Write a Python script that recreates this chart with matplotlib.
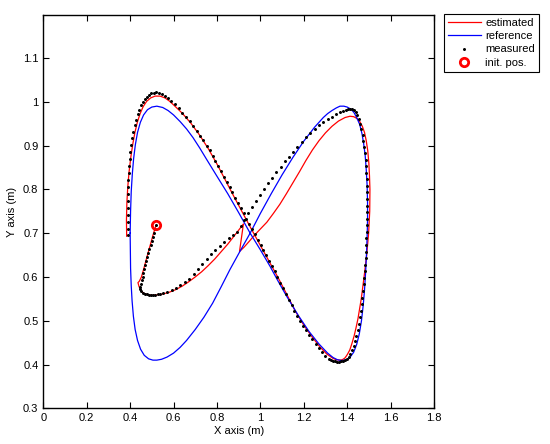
import numpy as np
import matplotlib.pyplot as plt

plt.rcParams['font.family'] = ['Liberation Sans', 'DejaVu Sans']

# reference trajectory (blue)
ref_x = [0.400, 0.401, 0.402, 0.405, 0.409, 0.415, 0.423, 0.434, 0.448, 0.465, 0.485, 0.505,
         0.523, 0.545, 0.570, 0.600, 0.630, 0.660, 0.700, 0.740, 0.780, 0.820, 0.860, 0.910,
         0.953, 1.000, 1.050, 1.100, 1.150, 1.200, 1.250, 1.290, 1.310, 1.330, 1.350, 1.367,
         1.385, 1.400, 1.418, 1.432, 1.445, 1.458, 1.468, 1.476, 1.483, 1.488, 1.492, 1.494,
         1.494, 1.492, 1.489, 1.485, 1.480, 1.474, 1.466, 1.456, 1.444, 1.430, 1.414, 1.395,
         1.375, 1.355, 1.335, 1.310, 1.270, 1.225, 1.175, 1.120, 1.080, 1.045, 1.000, 0.953,
         0.900, 0.850, 0.800, 0.753, 0.720, 0.690, 0.660, 0.630, 0.600, 0.575, 0.550, 0.523,
         0.500, 0.480, 0.462, 0.447, 0.434, 0.424, 0.416, 0.410, 0.405, 0.402, 0.400]
ref_y = [0.700, 0.660, 0.620, 0.580, 0.545, 0.510, 0.480, 0.455, 0.435, 0.421, 0.413, 0.410,
         0.410, 0.412, 0.417, 0.426, 0.439, 0.455, 0.480, 0.508, 0.540, 0.578, 0.617, 0.662,
         0.700, 0.745, 0.790, 0.833, 0.873, 0.910, 0.942, 0.964, 0.973, 0.980, 0.986, 0.990,
         0.990, 0.988, 0.983, 0.975, 0.963, 0.948, 0.928, 0.905, 0.878, 0.845, 0.810, 0.770,
         0.730, 0.690, 0.650, 0.610, 0.570, 0.535, 0.500, 0.470, 0.446, 0.428, 0.417, 0.411,
         0.409, 0.411, 0.416, 0.426, 0.447, 0.475, 0.512, 0.557, 0.592, 0.624, 0.662, 0.700,
         0.747, 0.790, 0.830, 0.868, 0.895, 0.918, 0.938, 0.955, 0.970, 0.980, 0.987, 0.990,
         0.988, 0.982, 0.970, 0.953, 0.930, 0.902, 0.870, 0.835, 0.795, 0.750, 0.700]

# estimated trajectory (red)
est_x = [0.519, 0.505, 0.490, 0.476, 0.463, 0.452, 0.442, 0.436, 0.441, 0.450, 0.462, 0.478,
         0.500, 0.523, 0.550, 0.580, 0.610, 0.640, 0.670, 0.700, 0.730, 0.760, 0.790, 0.820,
         0.850, 0.880, 0.905, 0.922, 0.904, 0.925, 0.950, 0.976, 1.003, 1.030, 1.060, 1.090,
         1.120, 1.150, 1.180, 1.210, 1.240, 1.270, 1.300, 1.330, 1.360, 1.390, 1.413, 1.430,
         1.445, 1.458, 1.470, 1.480, 1.488, 1.495, 1.500, 1.503, 1.505, 1.504, 1.499, 1.490,
         1.478, 1.465, 1.450, 1.441, 1.432, 1.422, 1.412, 1.401, 1.390, 1.378, 1.367, 1.350,
         1.335, 1.306, 1.275, 1.240, 1.200, 1.160, 1.120, 1.080, 1.040, 1.000, 0.960, 0.920,
         0.880, 0.840, 0.800, 0.760, 0.720, 0.680, 0.640, 0.600, 0.580, 0.560, 0.538, 0.515,
         0.495, 0.476, 0.460, 0.446, 0.433, 0.422, 0.412, 0.403, 0.395, 0.389, 0.385, 0.383,
         0.384]
est_y = [0.718, 0.695, 0.668, 0.643, 0.619, 0.600, 0.590, 0.587, 0.578, 0.569, 0.563, 0.560,
         0.558, 0.559, 0.561, 0.565, 0.571, 0.579, 0.589, 0.600, 0.612, 0.626, 0.641, 0.658,
         0.675, 0.694, 0.710, 0.721, 0.658, 0.668, 0.682, 0.697, 0.711, 0.725, 0.745, 0.766,
         0.790, 0.815, 0.840, 0.866, 0.890, 0.911, 0.929, 0.944, 0.956, 0.964, 0.967, 0.966,
         0.962, 0.955, 0.944, 0.930, 0.911, 0.888, 0.860, 0.830, 0.800, 0.750, 0.700, 0.650,
         0.600, 0.550, 0.505, 0.484, 0.465, 0.448, 0.433, 0.423, 0.415, 0.411, 0.410, 0.411,
         0.414, 0.424, 0.440, 0.462, 0.490, 0.523, 0.562, 0.600, 0.636, 0.672, 0.708, 0.745,
         0.782, 0.820, 0.858, 0.893, 0.924, 0.951, 0.974, 0.993, 1.002, 1.009, 1.013, 1.013,
         1.009, 1.001, 0.989, 0.973, 0.953, 0.930, 0.903, 0.873, 0.840, 0.805, 0.770, 0.730,
         0.693]

# measured positions (black dots), in pieces along the path
meas_start_x = [0.519, 0.514, 0.509, 0.504, 0.499, 0.494, 0.489, 0.484, 0.479, 0.474, 0.469,
                0.465, 0.461, 0.457, 0.453, 0.449, 0.446, 0.447, 0.452, 0.459, 0.467, 0.476,
                0.486, 0.496, 0.506, 0.516, 0.527, 0.539, 0.553]
meas_start_y = [0.718, 0.709, 0.700, 0.691, 0.682, 0.673, 0.664, 0.655, 0.646, 0.637, 0.628,
                0.619, 0.610, 0.601, 0.593, 0.585, 0.578, 0.572, 0.567, 0.564, 0.562, 0.560,
                0.559, 0.558, 0.558, 0.559, 0.560, 0.561, 0.563]
meas_rise_x = [0.572, 0.592, 0.612, 0.632, 0.652, 0.672, 0.692, 0.712, 0.732, 0.752, 0.772,
               0.793, 0.814, 0.834, 0.854, 0.874, 0.893, 0.910, 0.926, 0.945, 0.963, 0.981,
               0.999, 1.017, 1.036, 1.055, 1.074, 1.093, 1.112, 1.131, 1.150, 1.170, 1.190,
               1.210, 1.230, 1.250, 1.270, 1.290, 1.310, 1.330, 1.348, 1.365, 1.380, 1.393,
               1.405, 1.415, 1.424]
meas_rise_y = [0.566, 0.570, 0.575, 0.581, 0.588, 0.596, 0.606, 0.617, 0.629, 0.641, 0.652,
               0.662, 0.671, 0.680, 0.688, 0.695, 0.703, 0.716, 0.729, 0.745, 0.760, 0.774,
               0.788, 0.801, 0.814, 0.827, 0.840, 0.852, 0.864, 0.875, 0.886, 0.897, 0.908,
               0.919, 0.929, 0.938, 0.946, 0.953, 0.960, 0.966, 0.971, 0.976, 0.979, 0.981,
               0.983, 0.984, 0.984]
meas_right_x = [1.432, 1.440, 1.447, 1.454, 1.460, 1.466, 1.471, 1.475, 1.479, 1.482, 1.485,
                1.487, 1.489, 1.490, 1.491, 1.492, 1.492, 1.492, 1.492, 1.492, 1.491, 1.490,
                1.489, 1.488, 1.486, 1.485, 1.483, 1.481, 1.479, 1.476, 1.473, 1.470, 1.467,
                1.463, 1.459, 1.454, 1.449, 1.443, 1.437, 1.430, 1.423, 1.415, 1.407, 1.398,
                1.389, 1.380, 1.371, 1.362, 1.353, 1.344, 1.335, 1.326, 1.317]
meas_right_y = [0.982, 0.977, 0.970, 0.961, 0.950, 0.938, 0.925, 0.911, 0.897, 0.883, 0.868,
                0.853, 0.838, 0.823, 0.808, 0.793, 0.778, 0.763, 0.748, 0.733, 0.718, 0.703,
                0.688, 0.673, 0.658, 0.643, 0.628, 0.613, 0.598, 0.583, 0.568, 0.553, 0.538,
                0.523, 0.508, 0.493, 0.479, 0.466, 0.454, 0.443, 0.433, 0.425, 0.418, 0.413,
                0.410, 0.408, 0.407, 0.406, 0.406, 0.407, 0.408, 0.410, 0.413]
meas_back_x = [1.300, 1.285, 1.270, 1.255, 1.240, 1.226, 1.212, 1.198, 1.184, 1.170, 1.157,
               1.144, 1.131, 1.118, 1.105, 1.092, 1.079, 1.066, 1.053, 1.040, 1.027, 1.014,
               1.001, 0.988, 0.975, 0.962, 0.949, 0.936, 0.923, 0.910, 0.897, 0.884, 0.871,
               0.858, 0.845, 0.832, 0.819, 0.806, 0.793, 0.780, 0.766, 0.752, 0.737, 0.722,
               0.706, 0.690, 0.674, 0.658, 0.641, 0.624, 0.607, 0.590, 0.574, 0.559, 0.545,
               0.532, 0.520, 0.509, 0.498, 0.488, 0.478, 0.469, 0.460, 0.451, 0.443, 0.435,
               0.428, 0.421, 0.415, 0.410, 0.405, 0.401, 0.398, 0.395, 0.393, 0.392, 0.391,
               0.390, 0.390, 0.390, 0.390, 0.391, 0.391, 0.392]
meas_back_y = [0.420, 0.428, 0.437, 0.447, 0.458, 0.468, 0.479, 0.489, 0.499, 0.510, 0.522,
               0.535, 0.548, 0.561, 0.574, 0.587, 0.600, 0.613, 0.625, 0.637, 0.649, 0.661,
               0.673, 0.685, 0.697, 0.709, 0.721, 0.733, 0.745, 0.757, 0.769, 0.781, 0.793,
               0.805, 0.817, 0.829, 0.841, 0.853, 0.865, 0.877, 0.889, 0.900, 0.912, 0.923,
               0.934, 0.945, 0.955, 0.965, 0.975, 0.985, 0.994, 1.002, 1.009, 1.014, 1.018,
               1.021, 1.022, 1.021, 1.019, 1.016, 1.012, 1.007, 1.000, 0.992, 0.982, 0.971,
               0.959, 0.946, 0.932, 0.917, 0.902, 0.886, 0.870, 0.854, 0.838, 0.822, 0.806,
               0.790, 0.774, 0.758, 0.742, 0.726, 0.710, 0.695]

init_x = [0.519]
init_y = [0.718]

xtick_vals = [0, 0.2, 0.4, 0.6, 0.8, 1, 1.2, 1.4, 1.6, 1.8]
ytick_vals = [0.3, 0.4, 0.5, 0.6, 0.7, 0.8, 0.9, 1, 1.1]

meas_x = meas_start_x + meas_rise_x + meas_right_x + meas_back_x
meas_y = meas_start_y + meas_rise_y + meas_right_y + meas_back_y

fig = plt.figure(figsize=(5.5, 4.44), dpi=100)
ax = fig.add_axes([0.0788, 0.0804, 0.7102, 0.8856])

ax.plot(est_x, est_y, color='r', lw=0.9, label='estimated')
ax.plot(ref_x, ref_y, color='b', lw=0.9, label='reference')
ax.plot(meas_x, meas_y, 'k.', ms=2.3, label='measured')
ax.plot(init_x, init_y, 'o', mfc='none', mec='r', mew=2, ms=6, label='init. pos.')

ax.set_xlim(0, 1.8)
ax.set_ylim(0.3, 1.198)
ax.set_xticks(xtick_vals)
ax.set_xticklabels([('%g' % v) for v in xtick_vals])
ax.set_yticks(ytick_vals)
ax.set_yticklabels([('%g' % v) for v in ytick_vals])
ax.tick_params(direction='in', top=True, right=True, labelsize=8, length=4, width=0.8)
for s in ax.spines.values():
    s.set_linewidth(1.0)
ax.set_xlabel('X axis (m)', fontsize=8, labelpad=2)
ax.set_ylabel('Y axis (m)', fontsize=8, labelpad=4)

leg = ax.legend(loc='upper left', bbox_to_anchor=(1.025, 1.003), borderaxespad=0,
                fontsize=8, fancybox=False, edgecolor='k', framealpha=1,
                handlelength=3.0, labelspacing=0.3, borderpad=0.35, handletextpad=0.4)
leg.get_frame().set_linewidth(0.8)

plt.savefig('out.png', dpi=100)
